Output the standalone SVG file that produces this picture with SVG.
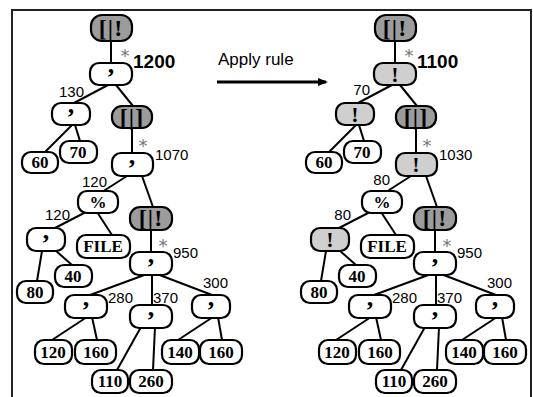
<svg xmlns="http://www.w3.org/2000/svg" width="533" height="397" viewBox="0 0 533 397">
<style>
.frame{fill:none;stroke:#222;stroke-width:2}
.n rect{fill:#fff;stroke:#000;stroke-width:2.2}
.n.d rect{fill:#9c9c9c}
.n.l rect{fill:#cfcfcf}
.n text{font-family:"Liberation Serif",serif;font-weight:bold;font-size:17px;text-anchor:middle;fill:#000}
.n text.c{font-size:26px}
.n text.x{font-size:22px}
.n text.b{font-size:24px;letter-spacing:1px}
.lab{font-family:"Liberation Sans",Arial,sans-serif;font-size:15px;fill:#000}
.big{font-family:"Liberation Sans",Arial,sans-serif;font-size:19px;font-weight:bold;fill:#000}
.st{font-family:"DejaVu Sans",sans-serif;font-size:18px;fill:#777;text-anchor:middle}
.ttl{font-family:"Liberation Sans",Arial,sans-serif;font-size:17px;fill:#000}
</style>
<defs>
<marker id="ah" markerWidth="10" markerHeight="8" refX="8" refY="4" orient="auto" markerUnits="userSpaceOnUse">
<path d="M0,0 L10,4 L0,8 Z" fill="#000"/>
</marker>
<g id="edges" stroke="#000" stroke-width="2">
<line x1="111" y1="41" x2="111" y2="63"/>
<line x1="108" y1="85" x2="74" y2="103"/>
<line x1="116" y1="85" x2="133" y2="106"/>
<line x1="72" y1="125" x2="45" y2="152"/>
<line x1="75" y1="125" x2="80" y2="141"/>
<line x1="132" y1="128" x2="132" y2="153"/>
<line x1="127" y1="176" x2="102" y2="192"/>
<line x1="142" y1="176" x2="153" y2="207"/>
<line x1="86" y1="212" x2="55" y2="228"/>
<line x1="97" y1="212" x2="112" y2="235"/>
<line x1="42" y1="251" x2="37" y2="281"/>
<line x1="55" y1="250" x2="72" y2="265"/>
<line x1="151" y1="229" x2="151" y2="252"/>
<line x1="147" y1="274" x2="90" y2="295"/>
<line x1="152" y1="274" x2="152" y2="305"/>
<line x1="157" y1="274" x2="212" y2="295"/>
<line x1="87" y1="317" x2="52" y2="340"/>
<line x1="92" y1="317" x2="97" y2="340"/>
<line x1="141" y1="327" x2="117" y2="370"/>
<line x1="155" y1="327" x2="153" y2="370"/>
<line x1="213" y1="317" x2="178" y2="340"/>
<line x1="218" y1="317" x2="222" y2="340"/>
</g>
</defs>
<rect class="frame" x="12" y="10" width="519" height="392"/>
<g id="connectors">
<use href="#edges"/>
<use href="#edges" transform="translate(284,0)"/>
<line x1="217" y1="82" x2="326" y2="82" stroke="#000" stroke-width="3" marker-end="url(#ah)"/>
</g>
<text class="ttl" x="218" y="65">Apply rule</text>
<!-- left tree -->
<g id="L_root" class="n d"><rect x="91" y="15" width="41" height="26" rx="11"/><text class="b" x="111" y="36">[|!</text></g>
<g id="L_n1" class="n"><rect x="90" y="63" width="42" height="22" rx="9"/><text class="c" x="111" y="73">,</text></g>
<g id="L_n2" class="n"><rect x="52" y="103" width="38" height="22" rx="9"/><text class="c" x="71" y="113">,</text></g>
<g id="L_n3" class="n d"><rect x="112" y="106" width="40" height="22" rx="10"/><text class="b" x="132" y="125">[|]</text></g>
<g id="L_60" class="n"><rect x="22" y="152" width="36" height="21" rx="9"/><text x="40" y="168">60</text></g>
<g id="L_70" class="n"><rect x="60" y="141" width="37" height="22" rx="9"/><text x="78" y="158">70</text></g>
<g id="L_n4" class="n"><rect x="112" y="153" width="41" height="23" rx="9"/><text class="c" x="132" y="164">,</text></g>
<g id="L_n5" class="n"><rect x="78" y="191" width="40" height="22" rx="9"/><text x="98" y="208">%</text></g>
<g id="L_n6" class="n d"><rect x="130" y="207" width="42" height="23" rx="10"/><text class="b" x="151" y="226">[|!</text></g>
<g id="L_n7" class="n"><rect x="27" y="228" width="38" height="23" rx="9"/><text class="c" x="46" y="239">,</text></g>
<g id="L_FILE" class="n"><rect x="77" y="235" width="53" height="23" rx="9"/><text x="103" y="252">FILE</text></g>
<g id="L_n8" class="n"><rect x="130" y="252" width="42" height="23" rx="9"/><text class="c" x="151" y="263">,</text></g>
<g id="L_40" class="n"><rect x="55" y="265" width="37" height="22" rx="9"/><text x="73" y="282">40</text></g>
<g id="L_80" class="n"><rect x="17" y="281" width="36" height="22" rx="9"/><text x="35" y="298">80</text></g>
<g id="L_n9" class="n"><rect x="65" y="295" width="42" height="23" rx="9"/><text class="c" x="86" y="306">,</text></g>
<g id="L_n10" class="n"><rect x="130" y="305" width="42" height="23" rx="9"/><text class="c" x="151" y="316">,</text></g>
<g id="L_n11" class="n"><rect x="192" y="295" width="38" height="23" rx="9"/><text class="c" x="211" y="306">,</text></g>
<g id="L_120" class="n"><rect x="35" y="340" width="37" height="24" rx="9"/><text x="53" y="358">120</text></g>
<g id="L_160a" class="n"><rect x="75" y="340" width="41" height="24" rx="9"/><text x="96" y="358">160</text></g>
<g id="L_140" class="n"><rect x="162" y="340" width="37" height="24" rx="9"/><text x="180" y="358">140</text></g>
<g id="L_160b" class="n"><rect x="200" y="340" width="42" height="24" rx="9"/><text x="221" y="358">160</text></g>
<g id="L_110" class="n"><rect x="92" y="370" width="36" height="23" rx="9"/><text x="110" y="387">110</text></g>
<g id="L_260" class="n"><rect x="130" y="370" width="42" height="23" rx="9"/><text x="151" y="387">260</text></g>
<!-- left labels -->
<text class="st" x="125" y="62">*</text>
<text class="big" x="133" y="68">1200</text>
<text class="lab" x="84" y="97" text-anchor="end">130</text>
<text class="st" x="143" y="152">*</text>
<text class="lab" x="155" y="160">1070</text>
<text class="lab" x="107" y="187" text-anchor="end">120</text>
<text class="lab" x="70" y="220" text-anchor="end">120</text>
<text class="st" x="163" y="252">*</text>
<text class="lab" x="173" y="258">950</text>
<text class="lab" x="203" y="288">300</text>
<text class="lab" x="108" y="303">280</text>
<text class="lab" x="153" y="303">370</text>
<!-- right tree -->
<g transform="translate(284,0)">
<g id="R_root" class="n d"><rect x="91" y="15" width="41" height="26" rx="11"/><text class="b" x="111" y="36">[|!</text></g>
<g id="R_n1" class="n l"><rect x="90" y="63" width="42" height="22" rx="9"/><text class="x" x="111" y="82">!</text></g>
<g id="R_n2" class="n l"><rect x="52" y="103" width="38" height="22" rx="9"/><text class="x" x="71" y="122">!</text></g>
<g id="R_n3" class="n d"><rect x="112" y="106" width="40" height="22" rx="10"/><text class="b" x="132" y="125">[|]</text></g>
<g id="R_60" class="n"><rect x="22" y="152" width="36" height="21" rx="9"/><text x="40" y="168">60</text></g>
<g id="R_70" class="n"><rect x="60" y="141" width="37" height="22" rx="9"/><text x="78" y="158">70</text></g>
<g id="R_n4" class="n l"><rect x="112" y="153" width="41" height="23" rx="9"/><text class="x" x="132" y="172">!</text></g>
<g id="R_n5" class="n"><rect x="78" y="191" width="40" height="22" rx="9"/><text x="98" y="208">%</text></g>
<g id="R_n6" class="n d"><rect x="130" y="207" width="42" height="23" rx="10"/><text class="b" x="151" y="226">[|!</text></g>
<g id="R_n7" class="n l"><rect x="27" y="228" width="38" height="23" rx="9"/><text class="x" x="46" y="247">!</text></g>
<g id="R_FILE" class="n"><rect x="77" y="235" width="53" height="23" rx="9"/><text x="103" y="252">FILE</text></g>
<g id="R_n8" class="n"><rect x="130" y="252" width="42" height="23" rx="9"/><text class="c" x="151" y="263">,</text></g>
<g id="R_40" class="n"><rect x="55" y="265" width="37" height="22" rx="9"/><text x="73" y="282">40</text></g>
<g id="R_80" class="n"><rect x="17" y="281" width="36" height="22" rx="9"/><text x="35" y="298">80</text></g>
<g id="R_n9" class="n"><rect x="65" y="295" width="42" height="23" rx="9"/><text class="c" x="86" y="306">,</text></g>
<g id="R_n10" class="n"><rect x="130" y="305" width="42" height="23" rx="9"/><text class="c" x="151" y="316">,</text></g>
<g id="R_n11" class="n"><rect x="192" y="295" width="38" height="23" rx="9"/><text class="c" x="211" y="306">,</text></g>
<g id="R_120" class="n"><rect x="35" y="340" width="37" height="24" rx="9"/><text x="53" y="358">120</text></g>
<g id="R_160a" class="n"><rect x="75" y="340" width="41" height="24" rx="9"/><text x="96" y="358">160</text></g>
<g id="R_140" class="n"><rect x="162" y="340" width="37" height="24" rx="9"/><text x="180" y="358">140</text></g>
<g id="R_160b" class="n"><rect x="200" y="340" width="42" height="24" rx="9"/><text x="221" y="358">160</text></g>
<g id="R_110" class="n"><rect x="92" y="370" width="36" height="23" rx="9"/><text x="110" y="387">110</text></g>
<g id="R_260" class="n"><rect x="130" y="370" width="42" height="23" rx="9"/><text x="151" y="387">260</text></g>
<text class="st" x="125" y="62">*</text>
<text class="big" x="133" y="68">1100</text>
<text class="lab" x="86" y="95" text-anchor="end">70</text>
<text class="st" x="143" y="152">*</text>
<text class="lab" x="155" y="160">1030</text>
<text class="lab" x="106" y="185" text-anchor="end">80</text>
<text class="lab" x="67" y="220" text-anchor="end">80</text>
<text class="st" x="163" y="252">*</text>
<text class="lab" x="173" y="258">950</text>
<text class="lab" x="203" y="288">300</text>
<text class="lab" x="108" y="303">280</text>
<text class="lab" x="153" y="303">370</text>
</g>
</svg>
